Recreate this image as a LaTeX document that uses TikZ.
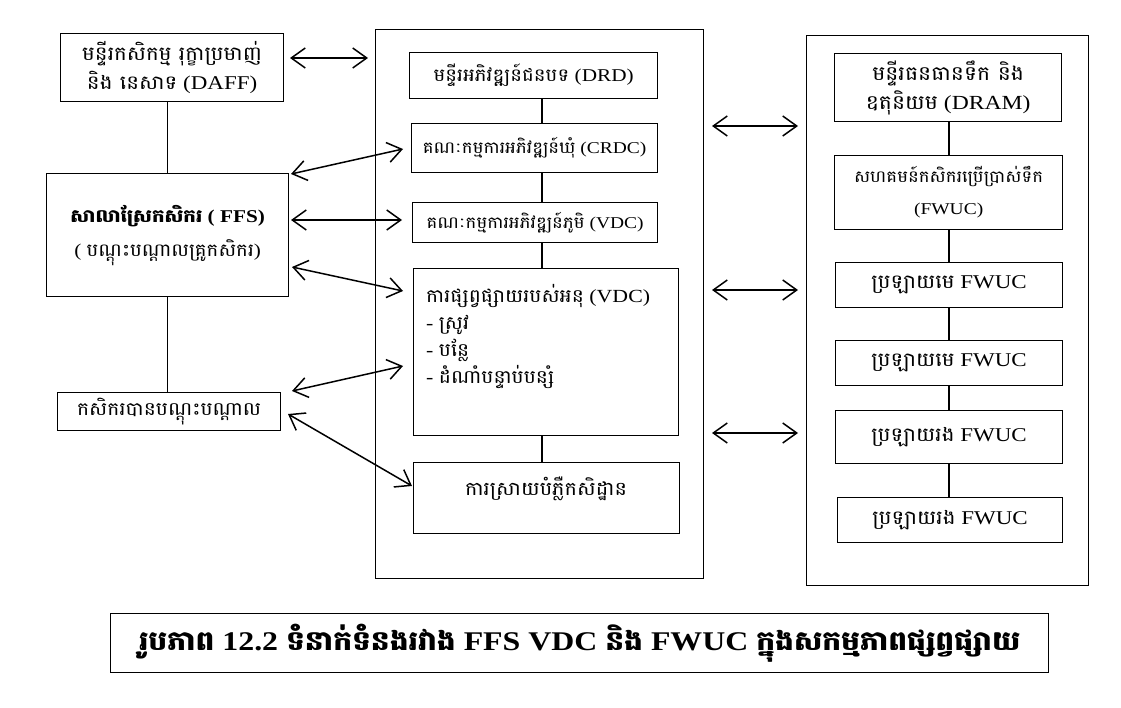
\documentclass[tikz,border=0pt]{standalone}
\usepackage{fontspec}
\setmainfont[FakeStretch=1.18]{Liberation Serif}
\newfontfamily\kh[Script=Khmer,FakeStretch=1.1]{Battambang}
\usetikzlibrary{arrows.meta}
\newcommand{\K}[1]{{\kh #1}}
\tikzset{
  bx/.style={draw, line width=1.3pt, inner sep=0pt, align=center, anchor=north west},
  txt/.style={inner sep=0pt, align=center},
  ln/.style={line width=1.2pt},
  dar/.style={line width=1.5pt, {Straight Barb[length=14pt,width=20pt]}-{Straight Barb[length=14pt,width=20pt]}},
  fz/.style={font=\fontsize{#1}{1.35*#1}\selectfont},
}
\begin{document}
\begin{tikzpicture}[x=1pt,y=-1pt]
\useasboundingbox (0,0) rectangle (1121,708);
% left column
\node[bx,font=\fontsize{19.5}{29}\selectfont,minimum width=223pt,minimum height=68pt] (daff) at (60,33)
  {\K{មន្ទីរកសិកម្ម រុក្ខាប្រមាញ់}\\\K{និង នេសាទ} (DAFF)};
\node[bx,font=\fontsize{18}{24}\selectfont,minimum width=242pt,minimum height=123pt] (ffs) at (46,173)
  {\textbf{\K{សាលាស្រែកសិករ} ( FFS)}\\[10pt]( \K{បណ្តុះបណ្តាលគ្រូកសិករ})};
\node[bx,font=\fontsize{18.5}{24}\selectfont,minimum width=223pt,minimum height=38pt] (trained) at (57,392)
  {\K{កសិករបានបណ្តុះបណ្តាល}};
\draw[ln] (daff.south -| ffs.north) -- (ffs.north);
\draw[ln] (ffs.south) -- (ffs.south |- trained.north);
% middle column
\node[bx,minimum width=328pt,minimum height=549pt] (midc) at (375,29) {};
\node[bx,font=\fontsize{18}{24}\selectfont,minimum width=248pt,minimum height=46pt] (drd) at (409,52)
  {\K{មន្ទីរអភិវឌ្ឍន៍ជនបទ} (DRD)};
\node[bx,font=\fontsize{16.5}{22}\selectfont,minimum width=246pt,minimum height=49pt] (crdc) at (411,123)
  {\K{គណៈកម្មការអភិវឌ្ឍន៍ឃុំ} (CRDC)};
\node[bx,font=\fontsize{16.5}{22}\selectfont,minimum width=245pt,minimum height=40pt] (vdc) at (412,202)
  {\K{គណៈកម្មការអភិវឌ្ឍន៍ភូមិ} (VDC)};
\node[bx,minimum width=265pt,minimum height=167pt] (ext) at (413,268) {};
\node[txt,font=\fontsize{18.5}{27}\selectfont,align=left,anchor=north west] (exttxt) at (426,284)
  {\K{ការផ្សព្វផ្សាយរបស់អនុ} (VDC)\\- \K{ស្រូវ}\\- \K{បន្លែ}\\- \K{ដំណាំបន្ទាប់បន្សំ}};
\node[bx,minimum width=266pt,minimum height=71pt] (demo) at (413,462) {};
\node[txt,font=\fontsize{19}{24}\selectfont] (demotxt) at (546,489) {\K{ការស្រាយបំភ្លឺកសិដ្ឋាន}};
\coordinate (mx) at (542,0);
\draw[ln] (drd.south -| mx) -- (crdc.north -| mx);
\draw[ln] (crdc.south -| mx) -- (vdc.north -| mx);
\draw[ln] (vdc.south -| mx) -- (ext.north -| mx);
\draw[ln] (ext.south -| mx) -- (demo.north -| mx);
% right column
\node[bx,minimum width=282pt,minimum height=550pt] (rightc) at (806,35) {};
\node[bx,font=\fontsize{20}{29}\selectfont,minimum width=227pt,minimum height=68pt] (dram) at (834,53)
  {\K{មន្ទីរធនធានទឹក និង}\\\K{ឧតុនិយម} (DRAM)};
\node[bx,font=\fontsize{16.5}{32}\selectfont,minimum width=228pt,minimum height=74pt] (fwuc) at (834,155)
  {\K{សហគមន៍កសិករប្រើប្រាស់ទឹក}\\(FWUC)};
\node[bx,font=\fontsize{19.5}{24}\selectfont,minimum width=227pt,minimum height=45pt] (m1) at (835,262)
  {\K{ប្រឡាយមេ} FWUC};
\node[bx,font=\fontsize{19.5}{24}\selectfont,minimum width=227pt,minimum height=45pt] (m2) at (835,340)
  {\K{ប្រឡាយមេ} FWUC};
\node[bx,font=\fontsize{19.5}{24}\selectfont,minimum width=227pt,minimum height=53pt] (s1) at (835,410)
  {\K{ប្រឡាយរង} FWUC};
\node[bx,font=\fontsize{19.5}{24}\selectfont,minimum width=225pt,minimum height=45pt] (s2) at (837,497)
  {\K{ប្រឡាយរង} FWUC};
\coordinate (rx) at (949,0);
\draw[ln] (dram.south -| rx) -- (fwuc.north -| rx);
\draw[ln] (fwuc.south -| rx) -- (m1.north -| rx);
\draw[ln] (m1.south -| rx) -- (m2.north -| rx);
\draw[ln] (m2.south -| rx) -- (s1.north -| rx);
\draw[ln] (s1.south -| rx) -- (s2.north -| rx);
% arrows left
\coordinate (a1s) at (290,58);  \coordinate (a1e) at (368,58);
\coordinate (a2s) at (291,174); \coordinate (a2e) at (403,149);
\coordinate (a3s) at (291,220); \coordinate (a3e) at (402,220);
\coordinate (a4s) at (292,267); \coordinate (a4e) at (403,291);
\coordinate (a5s) at (292,391); \coordinate (a5e) at (403,366);
\coordinate (a6s) at (288,414); \coordinate (a6e) at (412,486);
\draw[dar] (a1s) -- (a1e);
\draw[dar] (a2s) -- (a2e);
\draw[dar] (a3s) -- (a3e);
\draw[dar] (a4s) -- (a4e);
\draw[dar] (a5s) -- (a5e);
\draw[dar] (a6s) -- (a6e);
% arrows right
\coordinate (b1s) at (712,126); \coordinate (b1e) at (798,126);
\coordinate (b2s) at (712,290); \coordinate (b2e) at (798,290);
\coordinate (b3s) at (712,433); \coordinate (b3e) at (798,433);
\draw[dar] (b1s) -- (b1e);
\draw[dar] (b2s) -- (b2e);
\draw[dar] (b3s) -- (b3e);
% caption
\node[bx,minimum width=938pt,minimum height=59pt,font=\fontsize{27}{32}\selectfont\bfseries] (cap) at (110,613)
  {\K{រូបភាព} 12.2 \K{ទំនាក់ទំនងរវាង} FFS VDC \K{និង} FWUC \K{ក្នុងសកម្មភាពផ្សព្វផ្សាយ}};
\end{tikzpicture}
\end{document}
